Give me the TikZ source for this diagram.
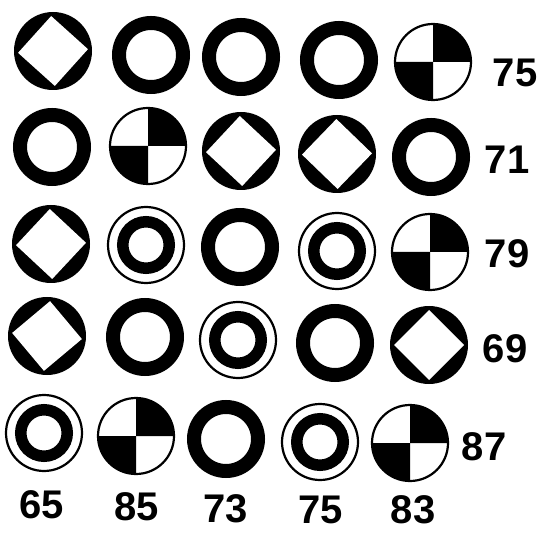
\documentclass[tikz,border=0pt]{standalone}
\usepackage{fontspec}
\setmainfont{Liberation Sans}
\tikzset{
  x=1pt, y=1pt,
  ringsym/.style={circle, draw=black, line width=14pt, minimum size=64pt, inner sep=0pt, outer sep=0pt},
  disksym/.style={circle, fill=black, minimum size=78pt, inner sep=0pt, outer sep=0pt},
  holesym/.style={rectangle, fill=white, minimum size=49.5pt, inner sep=0pt, rotate=45},
  thinsym/.style={circle, draw=black, line width=2.2pt, fill=white, minimum size=76pt, inner sep=0pt, outer sep=0pt},
  innerring/.style={circle, draw=black, line width=11.5pt, minimum size=46.5pt, inner sep=0pt},
  numlabel/.style={font=\bfseries\fontsize{40}{40}\selectfont, inner sep=0pt},
  ringpic/.pic={\node[ringsym] (-c) {};},
  diampic/.pic={\node[disksym] (-c) {}; \node[holesym, rotate=#1] (-h) {};},
  diampic/.default=0,
  quadpic/.pic={\node[thinsym] (-c) {};
    \fill[black] (-c.center) -- (0,38) arc[start angle=90, end angle=0, radius=38] -- cycle;
    \fill[black] (-c.center) -- (0,-38) arc[start angle=270, end angle=180, radius=38] -- cycle;},
  dblpic/.pic={\node[thinsym] (-c) {}; \node[innerring] (-i) {};}
}
\begin{document}
\begin{tikzpicture}
\useasboundingbox (0,0) rectangle (540,533);
% row 1
\pic (a1) at (53,482) {diampic=3};
\pic (a2) at (151,478) {ringpic};
\pic (a3) at (241,476) {ringpic};
\pic (a4) at (339,473) {ringpic};
\pic (a5) at (433,471) {quadpic};
% row 2
\pic (b1) at (52,386) {ringpic};
\pic (b2) at (148,387) {quadpic};
\pic (b3) at (241,382) {diampic=2};
\pic (b4) at (337,379) {diampic=1};
\pic (b5) at (431,376) {ringpic};
% row 3
\pic (c1) at (51,289) {diampic=2};
\pic (c2) at (146,288) {dblpic};
\pic (c3) at (240,286) {ringpic};
\pic (c4) at (337,282) {dblpic};
\pic (c5) at (430,281) {quadpic};
% row 4
\pic (d1) at (47,197) {diampic=-5};
\pic (d2) at (145,196) {ringpic};
\pic (d3) at (238,193) {dblpic};
\pic (d4) at (335,190) {ringpic};
\pic (d5) at (429,188) {diampic=0};
% row 5
\pic (e1) at (44,100) {dblpic};
\pic (e2) at (136,97) {quadpic};
\pic (e3) at (226,94) {ringpic};
\pic (e4) at (320,91) {dblpic};
\pic (e5) at (410,90) {quadpic};
% right labels
\node[numlabel] (r1) at (515,460) {75};
\node[numlabel] (r2) at (507,373) {71};
\node[numlabel] (r3) at (507,279) {79};
\node[numlabel] (r4) at (505,184) {69};
\node[numlabel] (r5) at (484,86) {87};
% bottom labels
\node[numlabel] (s1) at (42,28) {65};
\node[numlabel] (s2) at (137,26) {85};
\node[numlabel] (s3) at (226,24) {73};
\node[numlabel] (s4) at (321,23) {75};
\node[numlabel] (s5) at (413,23) {83};
\end{tikzpicture}
\end{document}
